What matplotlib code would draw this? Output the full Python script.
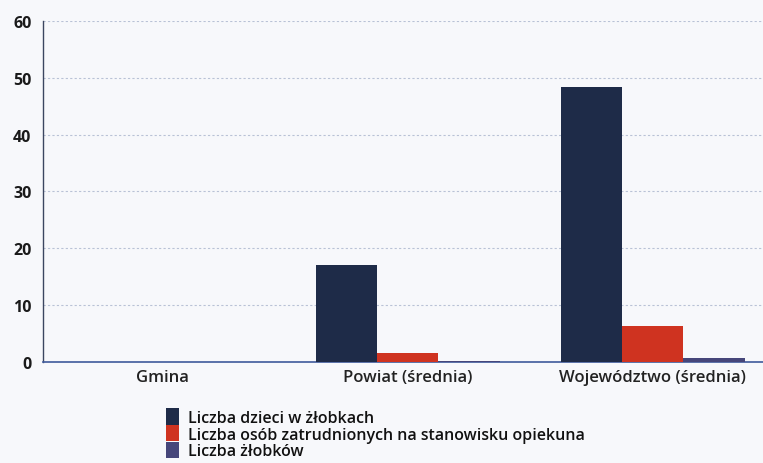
import numpy as np
import matplotlib
matplotlib.use("Agg")
import matplotlib.pyplot as plt

categories = ["Gmina", "Powiat (średnia)", "Województwo (średnia)"]
dzieci = [0, 17, 48.3]
opiekunowie = [0, 1.5, 6.3]
zlobki = [0, 0.2, 0.7]
series_labels = [
    "Liczba dzieci w żłobkach",
    "Liczba osób zatrudnionych na stanowisku opiekuna",
    "Liczba żłobków",
]
colors = ["#1e2b48", "#cf3320", "#46467a"]

plt.rcParams["font.family"] = ["Open Sans", "DejaVu Sans"]

fig = plt.figure(figsize=(7.63, 4.64), dpi=100)
fig.patch.set_facecolor("#f7f8fb")
ax = fig.add_axes([0.056, 0.2177, 0.944, 0.735])
ax.set_facecolor("#f7f8fb")

x = np.arange(len(categories))
w = 0.25
for i, (vals, c, lab) in enumerate(zip([dzieci, opiekunowie, zlobki], colors, series_labels)):
    ax.bar(x + (i - 1) * w, vals, width=w, color=c, label=lab, zorder=3)

ax.set_xlim(-0.49, 2.45)
ax.set_ylim(0, 60)
ax.set_yticks(range(0, 61, 10))
ax.set_xticks(x)
ax.set_xticklabels(categories, fontsize=12, color="#222222")
ax.tick_params(axis="y", labelsize=11.5, labelcolor="#1a1a1a", length=0, pad=8)
ax.tick_params(axis="x", length=0, pad=5)
for lab in ax.get_yticklabels():
    lab.set_fontweight("bold")
for lab in ax.get_xticklabels():
    lab.set_fontweight("semibold")

ax.grid(axis="y", linestyle=(0, (2, 2)), color="#b9c2d6", linewidth=0.8, zorder=0)
for s in ["top", "right"]:
    ax.spines[s].set_visible(False)
ax.spines["left"].set_color("#3b4660")
ax.spines["bottom"].set_color("#3f5a9c")
ax.spines["left"].set_linewidth(1.0)
ax.spines["bottom"].set_linewidth(1.2)

leg = fig.legend(loc="upper left", bbox_to_anchor=(0.2176, 0.118), frameon=False,
                 fontsize=11.5, handlelength=0.8, handleheight=1.2, handletextpad=0.55,
                 labelspacing=-0.05, borderaxespad=0, borderpad=0)
for t in leg.get_texts():
    t.set_fontweight("semibold")
    t.set_color("#111111")

fig.savefig("out.png", dpi=100, facecolor=fig.get_facecolor())
